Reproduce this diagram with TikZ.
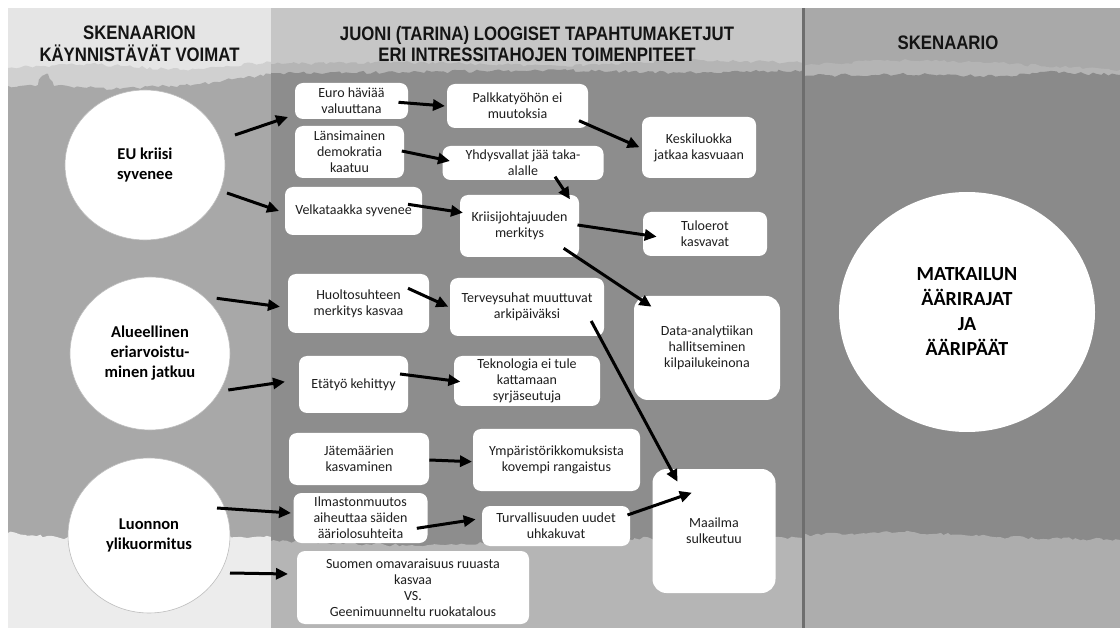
\documentclass[tikz,border=0pt]{standalone}
\usepackage{fontspec}
\setmainfont{Carlito}
\newfontfamily\headfont[FakeStretch=0.86]{Liberation Sans}
\usetikzlibrary{arrows.meta,decorations.pathmorphing,calc,shapes.geometric}

% panel tones
\definecolor{lhead}{HTML}{E5E5E5}
\definecolor{lhaze}{HTML}{D0D0D0}
\definecolor{lbody}{HTML}{A8A8A8}
\definecolor{lfoot}{HTML}{ECECEC}
\definecolor{mhead}{HTML}{C6C6C6}
\definecolor{mhaze}{HTML}{B5B5B5}
\definecolor{mbody}{HTML}{8D8D8D}
\definecolor{mfoot}{HTML}{B5B5B5}
\definecolor{rhead}{HTML}{A9A9A9}
\definecolor{rhaze}{HTML}{B4B4B4}
\definecolor{rbody}{HTML}{8A8A8A}
\definecolor{rfoot}{HTML}{ADADAD}
\definecolor{divider}{HTML}{6E6E6E}
\definecolor{boxtext}{HTML}{1E1E1E}
\definecolor{headtext}{HTML}{141414}
\definecolor{rimgray}{HTML}{BDBDBD}

\begin{document}
\begin{tikzpicture}[x=1pt,y=-1pt,
  box/.style={fill=white, rounded corners=8pt, inner sep=0pt, align=center,
    text=boxtext, font=\fontsize{14}{16}\selectfont},
  bigbox/.style={box, rounded corners=14pt},
  force/.style={ellipse, fill=white, draw=rimgray, line width=0.6pt, inner sep=0pt,
    align=center, text=black, font=\bfseries\fontsize{16.5}{20}\selectfont},
  goal/.style={force, draw=none, font=\bfseries\fontsize{20}{25}\selectfont},
  head/.style={align=center, text=headtext, inner sep=0pt,
    font=\headfont\bfseries\fontsize{19.5}{21.5}\selectfont},
  arr/.style={line width=3pt, draw=black, -{Triangle[length=12pt,width=11pt]}},
  rough/.style={decoration={random steps, segment length=4pt, amplitude=1.6pt}},
]
\pgfmathsetseed{7}
\useasboundingbox (0,0) rectangle (1120,628);
\fill[white] (0,0) rectangle (1120,628);

% ---- left column: driving forces ----
\fill[lhead] (8,8) rectangle (271,628);
\fill[lhaze] (8,68) decorate[rough]{-- (90,64) -- (180,70) -- (271,62)} -- (271,628) -- (8,628) -- cycle;
\fill[lbody] (8,86) decorate[rough]{-- (38,85) -- (42,76) -- (48,74) -- (54,86) -- (120,89) -- (200,84) -- (271,74)} -- (271,628) -- (8,628) -- cycle;
\fill[lfoot] (8,533) decorate[rough]{-- (60,538) -- (140,536) -- (271,537)} -- (271,628) -- (8,628) -- cycle;

% ---- middle column: event chains ----
\fill[mhead] (271,8) rectangle (803,628);
\fill[mhaze] (271,64) decorate[rough]{-- (400,62) -- (560,66) -- (700,60) -- (803,63)} -- (803,628) -- (271,628) -- cycle;
\fill[mbody] (271,73) decorate[rough]{-- (420,72) -- (560,70) -- (700,73) -- (803,70)} -- (803,628) -- (271,628) -- cycle;
\fill[mfoot] (271,541) decorate[rough]{-- (420,546) -- (560,540) -- (700,537) -- (803,538)} -- (803,628) -- (271,628) -- cycle;

% ---- right column: scenario ----
\fill[rhead] (803,8) rectangle (1120,628);
\fill[rhaze] (803,66) decorate[rough]{-- (880,60) -- (980,62) -- (1120,70)} -- (1120,628) -- (803,628) -- cycle;
\fill[rbody] (803,76) decorate[rough]{-- (900,74) -- (1000,76) -- (1040,72) -- (1120,75)} -- (1120,628) -- (803,628) -- cycle;
\fill[rfoot] (803,535) decorate[rough]{-- (900,532) -- (1000,537) -- (1120,540)} -- (1120,628) -- (803,628) -- cycle;
\fill[divider] (802,8) rectangle (804.5,628);

% ---- column headings ----
\node[head] (hleft) at (139.5,44) {SKENAARION\\KÄYNNISTÄVÄT VOIMAT};
\node[head] (hmid) at (537,44) {JUONI (TARINA) LOOGISET TAPAHTUMAKETJUT\\ERI INTRESSITAHOJEN TOIMENPITEET};
\node[head] (hright) at (948,43) {SKENAARIO};

% ---- driving forces ----
\node[force, minimum width=160pt, minimum height=150pt] (eu) at (145,165) {EU kriisi\\syvenee};
\node[force, minimum width=160pt, minimum height=153pt] (alue) at (150,353.5) {Alueellinen\\eriarvoistu-\\minen jatkuu};
\node[force, minimum width=162pt, minimum height=155pt] (luonto) at (149,535.5) {Luonnon\\ylikuormitus};

% ---- scenario ----
\node[goal, minimum width=256pt, minimum height=240pt] (matka) at (967,312) {MATKAILUN\\ÄÄRIRAJAT\\JA\\ÄÄRIPÄÄT};

% ---- events ----
\node[box, minimum width=113pt, minimum height=36pt] (euro) at (351.5,101) {Euro häviää\\valuuttana};
\node[box, minimum width=141pt, minimum height=44pt] (palkka) at (517.5,106) {Palkkatyöhön ei\\muutoksia};
\node[box, minimum width=114pt, minimum height=61pt] (keski) at (699,147.5) {Keskiluokka\\jatkaa kasvuaan};
\node[box, minimum width=109pt, minimum height=52pt] (lansi) at (349.5,152) {Länsimainen\\demokratia\\kaatuu};
\node[box, minimum width=161pt, minimum height=34pt] (yhdys) at (523,163) {Yhdysvallat jää taka-\\alalle};
\node[box, minimum width=137pt, minimum height=48pt] (velka) at (353.5,211) {Velkataakka syvenee};
\node[box, minimum width=119pt, minimum height=62pt] (kriisi) at (519.5,226) {Kriisijohtajuuden\\merkitys};
\node[box, minimum width=124pt, minimum height=44pt] (tulo) at (705,234) {Tuloerot\\kasvavat};
\node[box, minimum width=141pt, minimum height=59pt] (huolto) at (358.5,303.5) {Huoltosuhteen\\merkitys kasvaa};
\node[box, minimum width=154pt, minimum height=58pt] (terveys) at (527,307) {Terveysuhat muuttuvat\\arkipäiväksi};
\node[bigbox, minimum width=146pt, minimum height=104pt] (data) at (707,348) {Data-analytiikan\\hallitseminen\\kilpailukeinona};
\node[box, minimum width=109pt, minimum height=57pt] (etatyo) at (353.5,384.5) {Etätyö kehittyy};
\node[box, minimum width=146pt, minimum height=50pt] (tekno) at (527,381) {Teknologia ei tule\\kattamaan\\syrjäseutuja};
\node[box, minimum width=140pt, minimum height=52pt] (jate) at (359,459) {Jätemäärien\\kasvaminen};
\node[box, minimum width=167pt, minimum height=62pt] (ymp) at (556.5,460) {Ympäristörikkomuksista\\kovempi rangaistus};
\node[box, minimum width=134pt, minimum height=50pt] (ilmasto) at (360.5,518) {Ilmastonmuutos\\aiheuttaa säiden\\ääriolosuhteita};
\node[box, minimum width=148pt, minimum height=40pt] (turva) at (556,526) {Turvallisuuden uudet\\uhkakuvat};
\node[bigbox, minimum width=123pt, minimum height=124pt] (maailma) at (714,531) {Maailma\\sulkeutuu};
\node[box, minimum width=232pt, minimum height=73pt] (suomen) at (413,587.5) {Suomen omavaraisuus ruuasta\\kasvaa\\VS.\\Geenimuunneltu ruokatalous};

% ---- connectors ----
\draw[arr] ($(eu)+(90,-30)$) -- ($(euro)+(-63.5,16)$);
\draw[arr] ($(eu)+(82,28)$) -- ($(velka)+(-74.5,0)$);
\draw[arr] ($(euro)+(47,1.3)$) -- ($(palkka)+(-72.5,0)$);
\draw[arr] ($(palkka)+(61.5,14.7)$) -- ($(keski)+(-59.5,-0.2)$);
\draw[arr] ($(lansi)+(52.3,-1)$) -- ($(yhdys)+(-73,-2)$);
\draw[arr] ($(yhdys)+(32,13.7)$) -- ($(kriisi)+(50.5,-26.7)$);
\draw[arr] ($(velka)+(54.5,-6.7)$) -- ($(kriisi)+(-56.5,-13.3)$);
\draw[arr] ($(kriisi)+(58,-1)$) -- ($(tulo)+(-48.3,2.7)$);
\draw[arr] ($(kriisi)+(44.2,22.3)$) -- ($(data)+(-55.5,-41.3)$);
\draw[arr] ($(alue)+(66.7,-55.2)$) -- ($(huolto)+(-78.5,3.2)$);
\draw[arr] ($(alue)+(78.3,36.5)$) -- ($(etatyo)+(-68.5,-2.8)$);
\draw[arr] ($(huolto)+(49.5,-15.2)$) -- ($(terveys)+(-78.7,-0.3)$);
\draw[arr] ($(etatyo)+(46.5,-10.5)$) -- ($(tekno)+(-66.6,0.7)$);
\draw[arr] ($(terveys)+(64.2,14)$) -- ($(maailma)+(-36.5,-49.3)$);
\draw[arr] ($(jate)+(70.3,1)$) -- ($(ymp)+(-84.5,1.7)$);
\draw[arr] ($(ilmasto)+(56.3,10.3)$) -- ($(turva)+(-80.3,-6.7)$);
\draw[arr] ($(turva)+(71.5,-11)$) -- ($(maailma)+(-22.2,-38.3)$);
\draw[arr] ($(luonto)+(68,-27.5)$) -- ($(ilmasto)+(-69.5,-5)$);
\draw[arr] ($(luonto)+(81,37.5)$) -- ($(suomen)+(-125,-13.5)$);
\end{tikzpicture}
\end{document}
